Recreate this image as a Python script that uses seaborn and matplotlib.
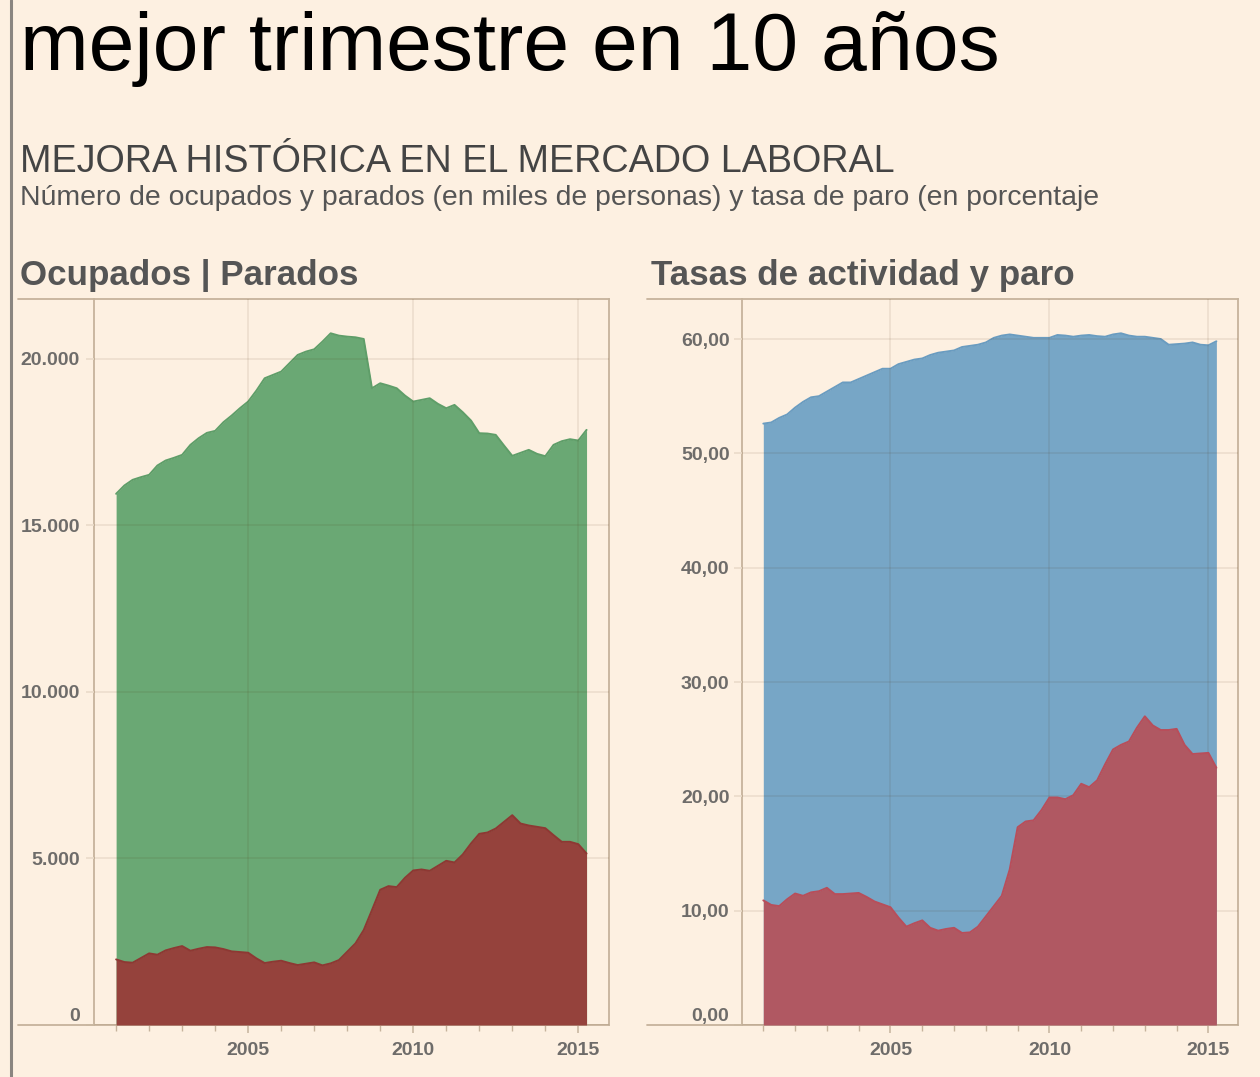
import numpy as np
import pandas as pd
import matplotlib
matplotlib.use("Agg")
import matplotlib.pyplot as plt
from matplotlib.ticker import FuncFormatter, FixedLocator
from matplotlib.lines import Line2D
import seaborn as sns

# EPA trimestral 2001T1 - 2015T2
quarters = pd.period_range("2001Q1", "2015Q2", freq="Q")

ocupados = [15950, 16200, 16370, 16450,
            16520, 16800, 16950, 17030,
            17120, 17420, 17620, 17780,
            17840, 18100, 18300, 18520,
            18720, 19050, 19420, 19520,
            19620, 19870, 20120, 20220,
            20290, 20520, 20770, 20700,
            20670, 20650, 20600, 19120,
            19270, 19200, 19120, 18900,
            18720, 18770, 18820, 18650,
            18520, 18620, 18400, 18150,
            17770, 17760, 17720, 17400,
            17090, 17180, 17270, 17150,
            17080, 17420, 17530, 17590,
            17550, 17870]

parados = [1970, 1890, 1870, 2010,
           2150, 2110, 2240, 2310,
           2370, 2230, 2290, 2340,
           2330, 2280, 2210, 2190,
           2170, 2000, 1860, 1900,
           1930, 1860, 1800, 1840,
           1880, 1790, 1850, 1950,
           2200, 2450, 2850, 3450,
           4060, 4170, 4140, 4420,
           4640, 4670, 4630, 4780,
           4930, 4880, 5120, 5450,
           5740, 5780, 5900, 6100,
           6300, 6050, 5990, 5950,
           5910, 5700, 5500, 5500,
           5430, 5150]

tasa_actividad = [52.6, 52.7, 53.1, 53.4,
                  54.0, 54.5, 54.9, 55.0,
                  55.4, 55.8, 56.2, 56.2,
                  56.5, 56.8, 57.1, 57.4,
                  57.4, 57.8, 58.0, 58.2,
                  58.3, 58.6, 58.8, 58.9,
                  59.0, 59.3, 59.4, 59.5,
                  59.7, 60.1, 60.3, 60.4,
                  60.3, 60.2, 60.1, 60.1,
                  60.1, 60.35, 60.3, 60.2,
                  60.3, 60.35, 60.25, 60.2,
                  60.4, 60.5, 60.3, 60.2,
                  60.2, 60.1, 60.0, 59.5,
                  59.55, 59.6, 59.7, 59.5,
                  59.45, 59.8]

tasa_paro = [10.9, 10.5, 10.4, 11.0,
             11.5, 11.3, 11.6, 11.7,
             12.0, 11.45, 11.45, 11.5,
             11.55, 11.2, 10.8, 10.55,
             10.3, 9.4, 8.6, 8.9,
             9.15, 8.5, 8.25, 8.4,
             8.5, 8.05, 8.1, 8.6,
             9.5, 10.4, 11.3, 13.6,
             17.3, 17.8, 17.9, 18.8,
             19.9, 19.9, 19.75, 20.1,
             21.1, 20.8, 21.4, 22.8,
             24.1, 24.5, 24.8, 26.0,
             27.0, 26.2, 25.8, 25.8,
             25.9, 24.5, 23.7, 23.75,
             23.8, 22.5]

year_ticks = [2005, 2010, 2015]
minor_years = list(range(2001, 2016))
left_yticks = [0, 5000, 10000, 15000, 20000]
right_yticks = [0, 10, 20, 30, 40, 50, 60]

df = pd.DataFrame({
    "t": np.asarray(quarters.year) + (np.asarray(quarters.quarter) - 1) / 4,
    "ocupados": ocupados,
    "parados": parados,
    "actividad": tasa_actividad,
    "paro": tasa_paro,
})

BG = "#fdf0e1"
SPINE = "#c6b39c"
GRID_RGB = (0.3, 0.15, 0.0)
TICK = "#eadbc9"
TXT = "#555555"

sns.set_theme(style="white", rc={"axes.facecolor": BG, "figure.facecolor": BG})
plt.rcParams["font.family"] = ["Liberation Sans", "DejaVu Sans"]

W, H = 1260, 1077
fig = plt.figure(figsize=(W / 100, H / 100), dpi=100)


def box(x0, x1, y0, y1):
    return [x0 / W, 1 - y1 / H, (x1 - x0) / W, (y1 - y0) / H]


def style_axes(ax, ylim, yticks, fmt, label_pad):
    ax.set_xlim(2000.33, 2015.93)
    ax.set_ylim(*ylim)
    ax.set_xlabel("")
    ax.set_ylabel("")
    for s in ax.spines.values():
        s.set_color(SPINE)
        s.set_linewidth(1.3)
        s.set_visible(True)
    ax.xaxis.set_major_locator(FixedLocator(year_ticks))
    ax.xaxis.set_minor_locator(FixedLocator(minor_years))
    ax.yaxis.set_major_locator(FixedLocator(yticks))
    ax.yaxis.set_major_formatter(FuncFormatter(fmt))
    ax.grid(True, which="major", color=GRID_RGB, alpha=0.09, linewidth=1.2)
    ax.set_axisbelow(False)
    ax.tick_params(axis="x", which="major", bottom=True, length=6, width=1.1,
                   color=SPINE, labelsize=14, labelcolor=TXT, pad=6)
    ax.tick_params(axis="x", which="minor", bottom=True, length=4, width=1.0,
                   color=SPINE)
    ax.tick_params(axis="y", which="major", left=True, length=6, width=1.2,
                   color=TICK, labelsize=14, labelcolor=TXT, pad=label_pad)
    for lbl in ax.get_xticklabels() + ax.get_yticklabels():
        lbl.set_fontweight("bold")
        lbl.set_alpha(0.85)
    # la etiqueta del cero queda por encima del eje
    ax.yaxis.get_major_ticks()[0].label1.set_verticalalignment("bottom")


def extend_frame(x_from, x_to):
    for y in (299, 1025):
        fig.add_artist(Line2D([x_from / W, x_to / W], [1 - y / H, 1 - y / H],
                              color=SPINE, linewidth=1.3))


# Panel izquierdo: ocupados y parados
ax1 = fig.add_axes(box(94, 609, 299, 1025))
ax1.fill_between(df["t"], 0, df["ocupados"], color="#6aa874", linewidth=0, zorder=1)
sns.lineplot(data=df, x="t", y="ocupados", ax=ax1, color="#5f9e69", linewidth=1.4, zorder=2)
ax1.fill_between(df["t"], 0, df["parados"], color="#95423c", linewidth=0, zorder=3)
sns.lineplot(data=df, x="t", y="parados", ax=ax1, color="#8e3833", linewidth=1.4, zorder=4)
style_axes(ax1, (0, 21800), left_yticks,
           lambda v, p: f"{int(v):,}".replace(",", "."), 4)
extend_frame(18, 94)

# Panel derecho: tasas de actividad y paro
ax2 = fig.add_axes(box(742, 1238, 299, 1025))
ax2.fill_between(df["t"], 0, df["actividad"], color="#77a6c6", linewidth=0, zorder=1)
sns.lineplot(data=df, x="t", y="actividad", ax=ax2, color="#6a9cc0", linewidth=1.4, zorder=2)
ax2.fill_between(df["t"], 0, df["paro"], color="#b05862", linewidth=0, zorder=3)
sns.lineplot(data=df, x="t", y="paro", ax=ax2, color="#b84e5a", linewidth=1.4, zorder=4)
style_axes(ax2, (0, 63.5), right_yticks,
           lambda v, p: f"{v:.2f}".replace(".", ","), 3)
extend_frame(647, 742)

# Textos
fig.text(20 / W, 1 - 70 / H, "mejor trimestre en 10 años", fontsize=59.3,
         color="black", va="baseline", ha="left")
fig.text(20 / W, 1 - 172 / H, "MEJORA HISTÓRICA EN EL MERCADO LABORAL",
         fontsize=27.2, color="#444444", va="baseline", ha="left")
fig.text(20 / W, 1 - 205 / H,
         "Número de ocupados y parados (en miles de personas) y tasa de paro (en porcentaje",
         fontsize=20.4, color="#555555", va="baseline", ha="left")
fig.text(20 / W, 1 - 285 / H, "Ocupados | Parados", fontsize=25.2,
         fontweight="bold", color="#555555", va="baseline", ha="left")
fig.text(651 / W, 1 - 285 / H, "Tasas de actividad y paro", fontsize=25.2,
         fontweight="bold", color="#555555", va="baseline", ha="left")

# Borde izquierdo
fig.add_artist(Line2D([11 / W, 11 / W], [0, 1], color="#8a8580", linewidth=2.2))

fig.savefig("out.png", dpi=100, facecolor=BG)
